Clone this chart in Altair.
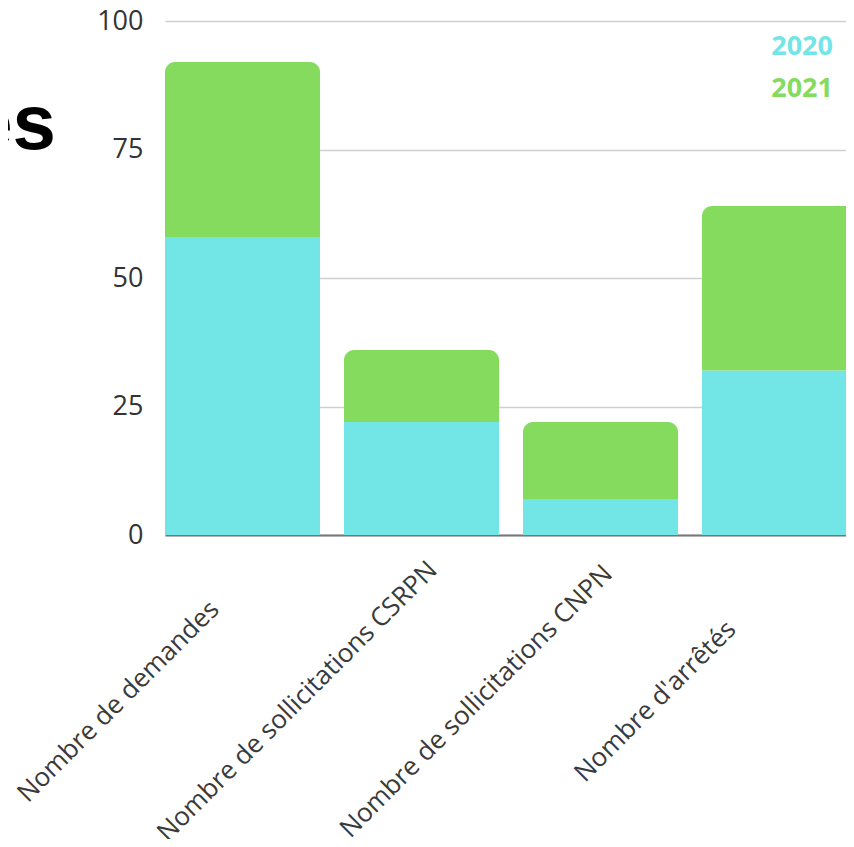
import altair as alt
import pandas as pd

categories = ["Nombre de demandes", "Nombre de sollicitations CSRPN",
              "Nombre de sollicitations CNPN", "Nombre d'arrêtés"]
v2020 = [58, 22, 7, 32]
v2021 = [34, 14, 15, 32]
years = ["2020", "2021"]
colors = ["#72E5E6", "#85DB5E"]
y_ticks = [0, 25, 50, 75, 100]
title_fragment = "es"

df = pd.DataFrame({"cat": categories, "y2020": v2020, "y2021": v2021})

xscale = alt.Scale(domain=categories, range=[0, 692], paddingInner=0.134, paddingOuter=0)
yscale = alt.Scale(domain=[0, 100])

xaxis = alt.Axis(title=None, labelAngle=-45, labelAlign="center", labelBaseline="middle",
                 labelOffset=-124, labelPadding=166, ticks=False, tickSize=0,
                 labelFont="Open Sans", labelFontSize=26, labelColor="#3a3a3a",
                 labelOverlap=False, labelLimit=1000, domainColor="#777777",
                 domainWidth=2, grid=False)
yaxis = alt.Axis(title=None, values=y_ticks, ticks=False, tickSize=0, domain=False,
                 labelPadding=22, labelFont="Open Sans", labelFontSize=27,
                 labelColor="#333333", gridColor="#d0d0d0", gridWidth=1.5)

base = alt.Chart(df)

bar2020 = base.mark_bar(color=colors[0]).encode(
    x=alt.X("cat:N", sort=categories, scale=xscale, axis=xaxis),
    y=alt.Y("y2020:Q", scale=yscale, axis=yaxis),
)

bar2021 = base.transform_calculate(total="datum.y2020 + datum.y2021").mark_bar(
    color=colors[1], cornerRadiusTopLeft=10, cornerRadiusTopRight=10
).encode(
    x=alt.X("cat:N", sort=categories),
    y=alt.Y("total:Q"),
    y2="y2020:Q",
)

leg2020 = alt.Chart(pd.DataFrame({"year": [years[0]]})).mark_text(
    align="right", baseline="alphabetic", font="Open Sans", fontWeight="bold",
    fontSize=27, color=colors[0]
).encode(text="year:N", x=alt.value(668), y=alt.value(34))

leg2021 = alt.Chart(pd.DataFrame({"year": [years[1]]})).mark_text(
    align="right", baseline="alphabetic", font="Open Sans", fontWeight="bold",
    fontSize=27, color=colors[1]
).encode(text="year:N", x=alt.value(668), y=alt.value(76))

title_txt = alt.Chart(pd.DataFrame({"t": [title_fragment]})).mark_text(
    align="right", baseline="alphabetic", font="Liberation Sans", fontWeight="bold",
    fontSize=78, color="#000000"
).encode(text="t:N", x=alt.value(-109), y=alt.value(128))

chart = alt.layer(bar2020, bar2021, leg2020, leg2021, title_txt).properties(
    width=681, height=514,
    autosize=alt.AutoSizeParams(type="none"),
    padding={"left": 157, "top": 13, "right": 0, "bottom": 304},
    background="white",
).configure_view(stroke=None)

chart.save("out.html", embed_options={"renderer": "svg", "actions": False})
